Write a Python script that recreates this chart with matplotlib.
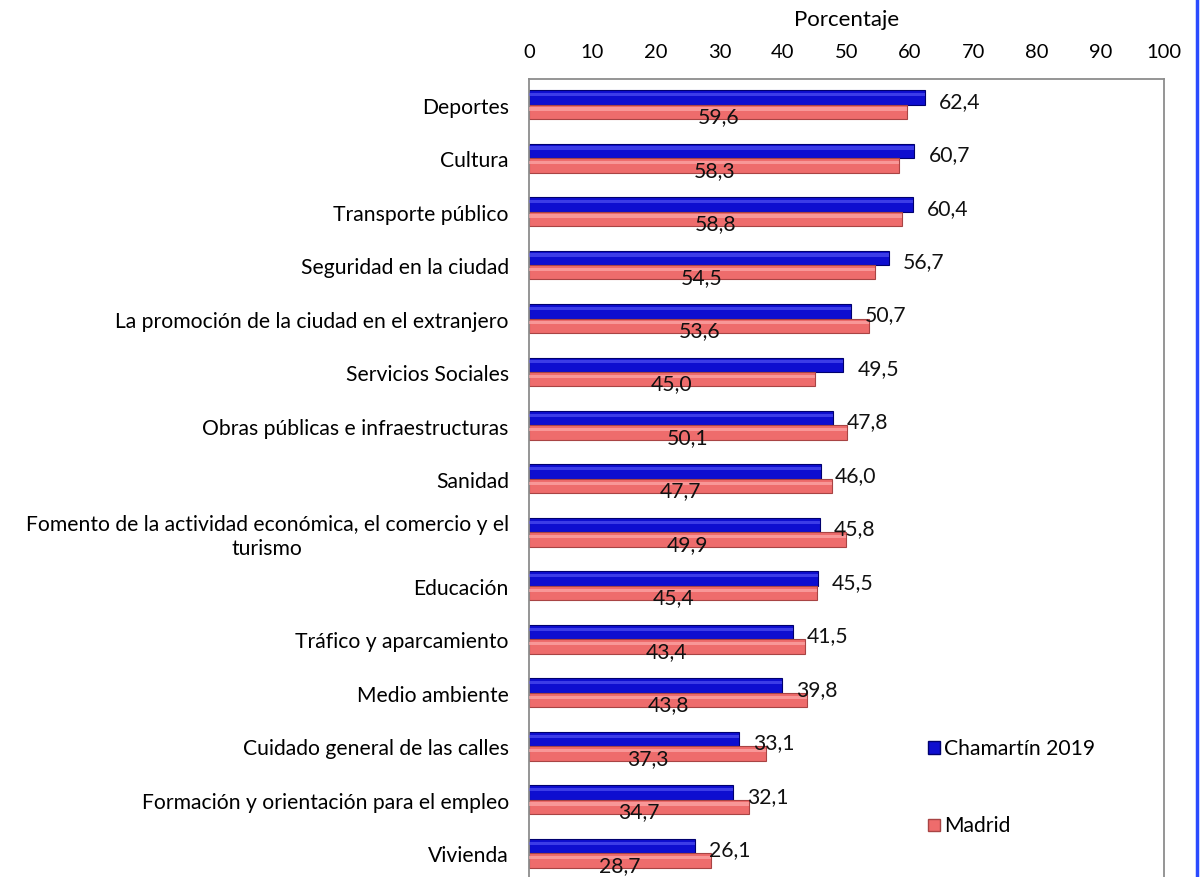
import matplotlib
matplotlib.use("Agg")
import matplotlib.pyplot as plt
import numpy as np
from matplotlib.patches import Patch
from matplotlib.lines import Line2D

plt.rcParams['font.family'] = ['Lato', 'DejaVu Sans']

categories = [
    "Deportes", "Cultura", "Transporte público", "Seguridad en la ciudad",
    "La promoción de la ciudad en el extranjero", "Servicios Sociales",
    "Obras públicas e infraestructuras", "Sanidad",
    "Fomento de la actividad económica, el comercio y el\nturismo",
    "Educación", "Tráfico y aparcamiento", "Medio ambiente",
    "Cuidado general de las calles", "Formación y orientación para el empleo",
    "Vivienda",
]
chamartin = [62.4, 60.7, 60.4, 56.7, 50.7, 49.5, 47.8, 46.0, 45.8, 45.5, 41.5, 39.8, 33.1, 32.1, 26.1]
madrid = [59.6, 58.3, 58.8, 54.5, 53.6, 45.0, 50.1, 47.7, 49.9, 45.4, 43.4, 43.8, 37.3, 34.7, 28.7]
series_names = ["Chamartín 2019", "Madrid"]
xticks = [0, 10, 20, 30, 40, 50, 60, 70, 80, 90, 100]

W, H = 1203, 877
fig = plt.figure(figsize=(W / 100, H / 100), dpi=100)
ax = fig.add_axes([529 / W, 1 - 881 / H, (1164 - 529) / W, (881 - 79) / H])

y = np.arange(len(categories))
bh = 0.27
blue, blue_edge, blue_hi = '#0e0ed0', '#00006e', '#6a6aff'
red, red_edge, red_hi = '#ee6c6c', '#a84444', '#ffb4b4'

ax.barh(y - bh / 2 - 0.02, chamartin, height=bh, color=blue, edgecolor=blue_edge, linewidth=0.8, zorder=2)
ax.barh(y - bh / 2 - 0.02 - bh * 0.2, chamartin, height=bh * 0.22, color=blue_hi, alpha=0.5, linewidth=0, zorder=3)
ax.barh(y + bh / 2 - 0.02, madrid, height=bh, color=red, edgecolor=red_edge, linewidth=0.8, zorder=2)
ax.barh(y + bh / 2 - 0.02 - bh * 0.2, madrid, height=bh * 0.22, color=red_hi, alpha=0.6, linewidth=0, zorder=3)

fs = 15.2
for i, (c, m) in enumerate(zip(chamartin, madrid)):
    ax.text(c + 2.2, i - bh / 2 + 0.06, f"{c:.1f}".replace('.', ','), va='center', ha='left',
            fontsize=fs, color='#111111', zorder=5)
    ax.text(m / 2, i + bh / 2 + 0.08, f"{m:.1f}".replace('.', ','), va='center', ha='center',
            fontsize=fs, color='#111111', zorder=5)

ax.set_xlim(0, 100)
ax.set_ylim(len(categories) - 0.5, -0.5)
ax.set_xticks(xticks)
ax.set_xticklabels([str(t) for t in xticks], fontsize=14.5)
ax.xaxis.tick_top()
ax.xaxis.set_label_position('top')
ax.set_xlabel("Porcentaje", fontsize=16, labelpad=13)
ax.tick_params(axis='x', length=0, pad=13)
ax.set_yticks(y)
ax.set_yticklabels(categories, fontsize=fs, multialignment='center')
ax.tick_params(axis='y', length=0, pad=14.5)
for s in ax.spines.values():
    s.set_color('#8c8c8c')
    s.set_linewidth(1.3)

handles = [Patch(facecolor=blue, edgecolor=blue_edge), Patch(facecolor=red, edgecolor=red_edge)]
leg = fig.legend(handles, series_names, loc='upper left', bbox_to_anchor=(928 / W, 1 - 739 / H),
                 frameon=False, fontsize=fs, labelspacing=2.72, handlelength=0.55, handleheight=0.55,
                 handletextpad=0.2, borderaxespad=0, borderpad=0)

fig.add_artist(Line2D([1197 / W, 1197 / W], [0, 1], color='#2a4bff', linewidth=2.5))

fig.savefig("out.png", dpi=100)
